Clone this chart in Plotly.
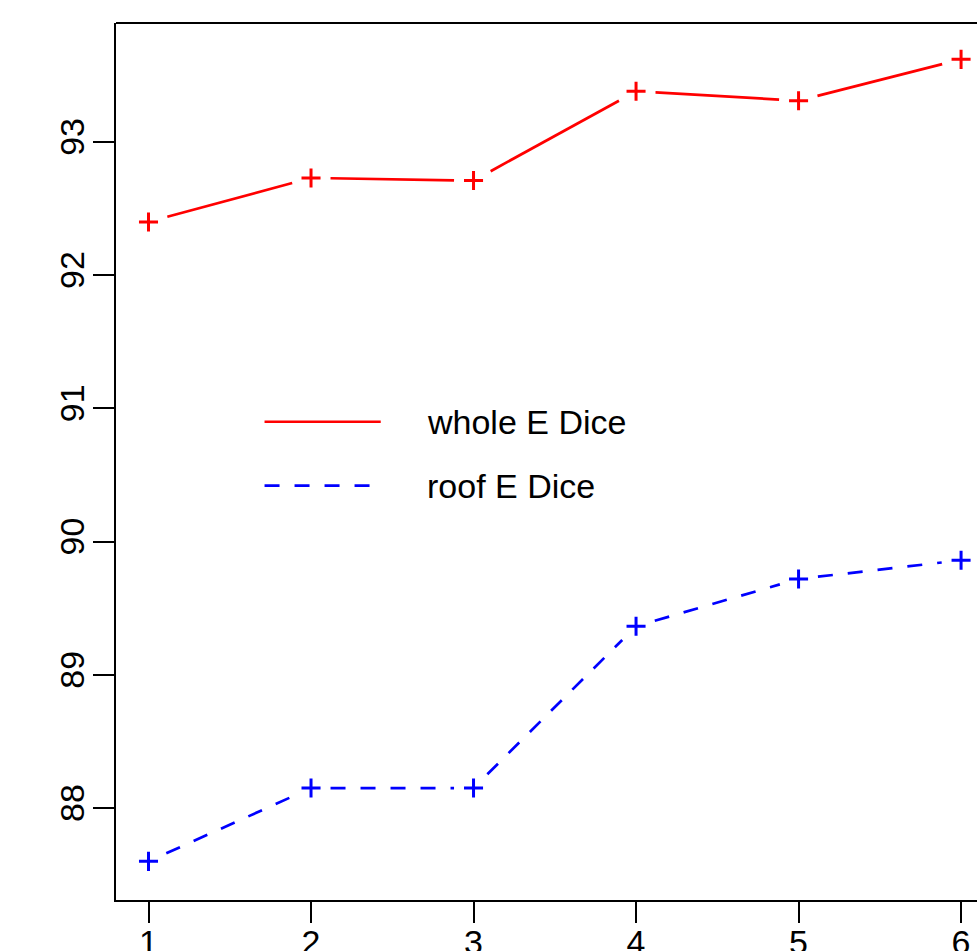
import math
import plotly.graph_objects as go

epochs = [1, 2, 3, 4, 5, 6]
whole_dice = [92.40, 92.73, 92.71, 93.38, 93.31, 93.62]
roof_dice = [87.60, 88.15, 88.15, 89.365, 89.72, 89.86]
x_ticks = [1, 2, 3, 4, 5, 6]
y_ticks = [88, 89, 90, 91, 92, 93]
series_names = ["whole E Dice", "roof E Dice"]

FONT = "Liberation Sans, Arial, Helvetica, sans-serif"
W, H = 977, 951
ML, MR, MT, MB = 116, 0, 23, 51
XR = [0.8, 6.098]
YR = [87.31, 93.893]
KX = (W - ML - MR) / (XR[1] - XR[0])   # px per x unit
KY = (H - MT - MB) / (YR[1] - YR[0])   # px per y unit
GAP = 19.5  # px gap around each point (R type="b")


def gapped(xs, ys):
    gx, gy = [], []
    for i in range(len(xs) - 1):
        dx = (xs[i + 1] - xs[i]) * KX
        dy = (ys[i + 1] - ys[i]) * KY
        f = GAP / math.hypot(dx, dy)
        gx += [xs[i] + (xs[i + 1] - xs[i]) * f, xs[i + 1] - (xs[i + 1] - xs[i]) * f, None]
        gy += [ys[i] + (ys[i + 1] - ys[i]) * f, ys[i + 1] - (ys[i + 1] - ys[i]) * f, None]
    return gx, gy


fig = go.Figure()

for vals, color, dash in [(whole_dice, "#ff0000", "solid"), (roof_dice, "#0000ff", "15px,15px")]:
    gx, gy = gapped(epochs, vals)
    fig.add_trace(go.Scatter(x=gx, y=gy, mode="lines", connectgaps=False,
                             line=dict(color=color, width=2.7, dash=dash),
                             showlegend=False, hoverinfo="skip"))
    fig.add_trace(go.Scatter(x=epochs, y=vals, mode="markers",
                             marker=dict(symbol="cross-thin", size=13.6, color=color,
                                         line=dict(width=3, color=color)),
                             showlegend=False))

# manual legend (R style, no box)
fig.add_shape(type="line", xref="x", yref="y", x0=1.714, x1=2.429, y0=90.90, y1=90.90,
              line=dict(color="#ff0000", width=2.7))
fig.add_shape(type="line", xref="x", yref="y", x0=1.714, x1=2.39, y0=90.42, y1=90.42,
              line=dict(color="#0000ff", width=2.7, dash="15px,15px"))
fig.add_annotation(x=2.70, y=90.90, xref="x", yref="y", text=series_names[0],
                   showarrow=False, xanchor="left", yanchor="middle",
                   font=dict(family=FONT, size=34, color="black"))
fig.add_annotation(x=2.70, y=90.42, xref="x", yref="y", text=series_names[1],
                   showarrow=False, xanchor="left", yanchor="middle",
                   font=dict(family=FONT, size=34, color="black"))

# top border of the box
fig.add_shape(type="line", xref="paper", yref="paper", x0=0, x1=1, y0=1, y1=1,
              line=dict(color="black", width=2.2))

fig.update_xaxes(range=XR, tickvals=x_ticks, ticks="outside", ticklen=21,
                 tickwidth=2, tickcolor="black", showline=True, linecolor="black",
                 linewidth=2.2, showgrid=False, zeroline=False, automargin=False,
                 ticklabelstandoff=-10,
                 tickfont=dict(family=FONT, size=34, color="black"))
fig.update_yaxes(range=YR, tickvals=y_ticks, ticks="outside", ticklen=21,
                 tickwidth=2, tickcolor="black", showline=True, linecolor="black",
                 linewidth=2.2, showgrid=False, zeroline=False, tickangle=-90,
                 automargin=False, ticklabelstandoff=-5,
                 tickfont=dict(family=FONT, size=34, color="black"))

fig.update_layout(width=W, height=H, margin=dict(l=ML, r=MR, t=MT, b=MB, autoexpand=False),
                  plot_bgcolor="white", paper_bgcolor="white", showlegend=False)

fig.write_html("out.html", config={"displayModeBar": False},
               post_script="document.body.style.margin='0';document.body.style.overflow='hidden';")
